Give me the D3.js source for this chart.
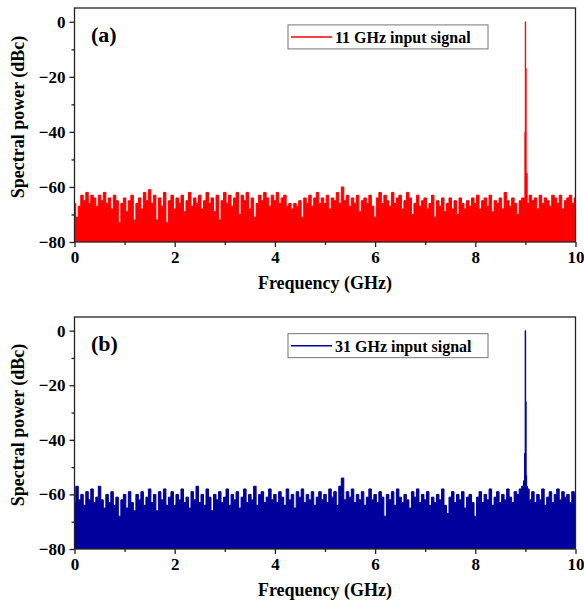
<!DOCTYPE html>
<html>
<head>
<meta charset="utf-8">
<script src="https://cdn.jsdelivr.net/npm/d3@7"></script>
<style>
body { margin: 0; background: #fff; }
text { font-family: "Liberation Serif", "Times New Roman", serif; font-weight: bold; fill: #000; }
</style>
</head>
<body>
<div id="chart"></div>
<script>
// noise floor, one value every 0.05 GHz from 0 to 10 GHz (dBc)
var noiseA = [
    -66, -71, -67, -63, -65, -62, -66, -63, -64, -67, -63, -65, -62, -66, -64, -68, -63, -65, -73, -66,
    -64, -69, -65, -63, -72, -66, -64, -68, -62, -65, -61, -66, -63, -72, -64, -67, -62, -73, -65, -63,
    -68, -64, -66, -63, -69, -65, -62, -67, -64, -66, -63, -68, -65, -62, -66, -64, -69, -63, -72, -65,
    -62, -66, -63, -67, -64, -62, -70, -63, -65, -62, -68, -64, -71, -66, -63, -65, -62, -64, -67, -63,
    -65, -62, -66, -64, -63, -67, -66, -68, -66, -67, -65, -71, -64, -66, -63, -67, -64, -62, -66, -64,
    -66, -63, -68, -64, -65, -62, -66, -60, -65, -63, -67, -64, -66, -63, -69, -65, -64, -66, -63, -67,
    -71, -64, -62, -66, -63, -65, -67, -62, -66, -64, -63, -68, -65, -62, -64, -70, -66, -63, -67, -65,
    -64, -68, -66, -63, -71, -65, -67, -64, -69, -66, -64, -68, -65, -70, -64, -66, -68, -65, -67, -64,
    -66, -63, -68, -65, -64, -67, -63, -69, -65, -66, -64, -68, -62, -65, -67, -64, -66, -70, -65, -64,
    0, -66, -63, -65, -64, -68, -63, -66, -64, -65, -67, -63, -64, -66, -63, -68, -65, -64, -63, -66, -64
];
var noiseB = [
    -63, -57, -62, -60, -64, -59, -62, -58, -63, -61, -57, -62, -65, -60, -63, -59, -64, -61, -68, -62,
    -60, -65, -59, -63, -66, -60, -62, -59, -64, -61, -58, -63, -60, -66, -59, -62, -58, -64, -61, -59,
    -64, -60, -62, -58, -63, -61, -65, -59, -62, -57, -63, -60, -64, -58, -61, -66, -60, -62, -59, -63,
    -61, -58, -64, -60, -62, -59, -65, -61, -58, -63, -60, -62, -57, -64, -60, -59, -63, -61, -58, -62,
    -60, -63, -59, -61, -64, -58, -62, -60, -65, -59, -61, -58, -63, -60, -62, -59, -64, -61, -59, -62,
    -60, -63, -58, -61, -59, -64, -57, -54, -62, -59, -61, -58, -63, -60, -62, -59, -64, -61, -58, -62,
    -60, -63, -59, -61, -68, -60, -62, -59, -64, -58, -61, -63, -60, -62, -65, -59, -61, -58, -63, -60,
    -62, -59, -64, -61, -63, -60, -62, -58, -64, -67, -61, -59, -63, -60, -62, -59, -65, -61, -60, -63,
    -68, -61, -59, -63, -60, -62, -58, -64, -61, -59, -63, -60, -62, -58, -61, -63, -59, -60, -58, -57,
    0, -58, -62, -59, -63, -60, -62, -58, -64, -61, -59, -63, -60, -58, -62, -59, -61, -60, -63, -59, -60
];
var freqStep = 0.05;

// extra points on the flanks of the 9 GHz line
var peakFreqA = [8.985, 8.995, 9.01, 9.02];
var peakValA = [-64, -40, -17, -55];
var peakFreqB = [8.975, 8.99, 9.01, 9.02, 9.03];
var peakValB = [-55, -45, -26, -53, -57];

var xTicks = [0, 2, 4, 6, 8, 10];
var xMinor = [1, 3, 5, 7, 9];
var yTicks = [0, -20, -40, -60, -80];
var yMinor = [-10, -30, -50, -70];

var panels = [
    { label: "(a)", legend: "11 GHz input signal", color: "#ff0000", noise: noiseA, pf: peakFreqA, pv: peakValA, top: 8, bottom: 242 },
    { label: "(b)", legend: "31 GHz input signal", color: "#00009c", noise: noiseB, pf: peakFreqB, pv: peakValB, top: 317, bottom: 549 }
];

var svg = d3.select("#chart").append("svg")
    .attr("width", 584)
    .attr("height", 603);

var x = d3.scaleLinear().domain([0, 10]).range([74.5, 575.5]);

panels.forEach(function (p, i) {
    var pts = p.noise.map((v, k) => ({ f: k * freqStep, v: v }));
    p.pf.forEach((f, k) => pts.push({ f: f, v: p.pv[k] }));
    pts.sort((a, b) => a.f - b.f);

    var y = d3.scaleLinear().domain([-80, 5]).range([p.bottom, p.top]);
    var g = svg.append("g");

    g.append("clipPath").attr("id", "clip" + i)
        .append("rect")
        .attr("x", x(0)).attr("y", y(5))
        .attr("width", x(10) - x(0)).attr("height", y(-80) - y(5));

    g.append("path")
        .datum(pts)
        .attr("clip-path", "url(#clip" + i + ")")
        .attr("fill", p.color)
        .attr("stroke", p.color)
        .attr("stroke-width", 1)
        .attr("d", d3.area().curve(d3.curveStep).x(d => x(d.f)).y0(y(-80)).y1(d => y(d.v)));

    // frame
    g.append("rect")
        .attr("x", x(0)).attr("y", y(5))
        .attr("width", x(10) - x(0)).attr("height", y(-80) - y(5))
        .attr("fill", "none").attr("stroke", "#222").attr("stroke-width", 1.3);

    var xAxis = g.append("g")
        .attr("transform", "translate(0," + y(-80) + ")")
        .call(d3.axisBottom(x).tickValues(xTicks).tickSize(5).tickPadding(4).tickFormat(d3.format("d")));
    g.append("g")
        .attr("transform", "translate(0," + y(-80) + ")")
        .call(d3.axisBottom(x).tickValues(xMinor).tickSize(3).tickFormat(""));
    var yAxis = g.append("g")
        .attr("transform", "translate(" + x(0) + ",0)")
        .call(d3.axisLeft(y).tickValues(yTicks).tickSize(5).tickPadding(4).tickFormat(d3.format("d")));
    g.append("g")
        .attr("transform", "translate(" + x(0) + ",0)")
        .call(d3.axisLeft(y).tickValues(yMinor).tickSize(3).tickFormat(""));

    g.selectAll(".domain").remove();
    g.selectAll(".tick line").attr("stroke", "#222").attr("stroke-width", 1.3);
    xAxis.selectAll("text").style("font-size", "17px").style("font-family", "Liberation Serif").style("font-weight", "bold");
    yAxis.selectAll("text").style("font-size", "17px").style("font-family", "Liberation Serif").style("font-weight", "bold");

    g.append("text")
        .attr("x", x(5)).attr("y", p.bottom + 47)
        .attr("text-anchor", "middle")
        .style("font-size", "18px")
        .text("Frequency (GHz)");
    g.append("text")
        .attr("transform", "translate(24," + ((p.top + p.bottom) / 2 - 8) + ") rotate(-90)")
        .attr("text-anchor", "middle")
        .style("font-size", "18px")
        .text("Spectral power (dBc)");

    g.append("text")
        .attr("x", 91).attr("y", y(-7.5))
        .style("font-size", "22px")
        .text(p.label);

    // legend
    var ly = y(-5.5);
    g.append("rect")
        .attr("x", 288).attr("y", ly - 12)
        .attr("width", 200).attr("height", 24)
        .attr("fill", "#fff").attr("stroke", "#777").attr("stroke-width", 1);
    g.append("line")
        .attr("x1", 291).attr("x2", 332).attr("y1", ly).attr("y2", ly)
        .attr("stroke", p.color).attr("stroke-width", 1.5);
    g.append("text")
        .attr("x", 335).attr("y", ly + 6)
        .style("font-size", "16px")
        .text(p.legend);
});
</script>
</body>
</html>
